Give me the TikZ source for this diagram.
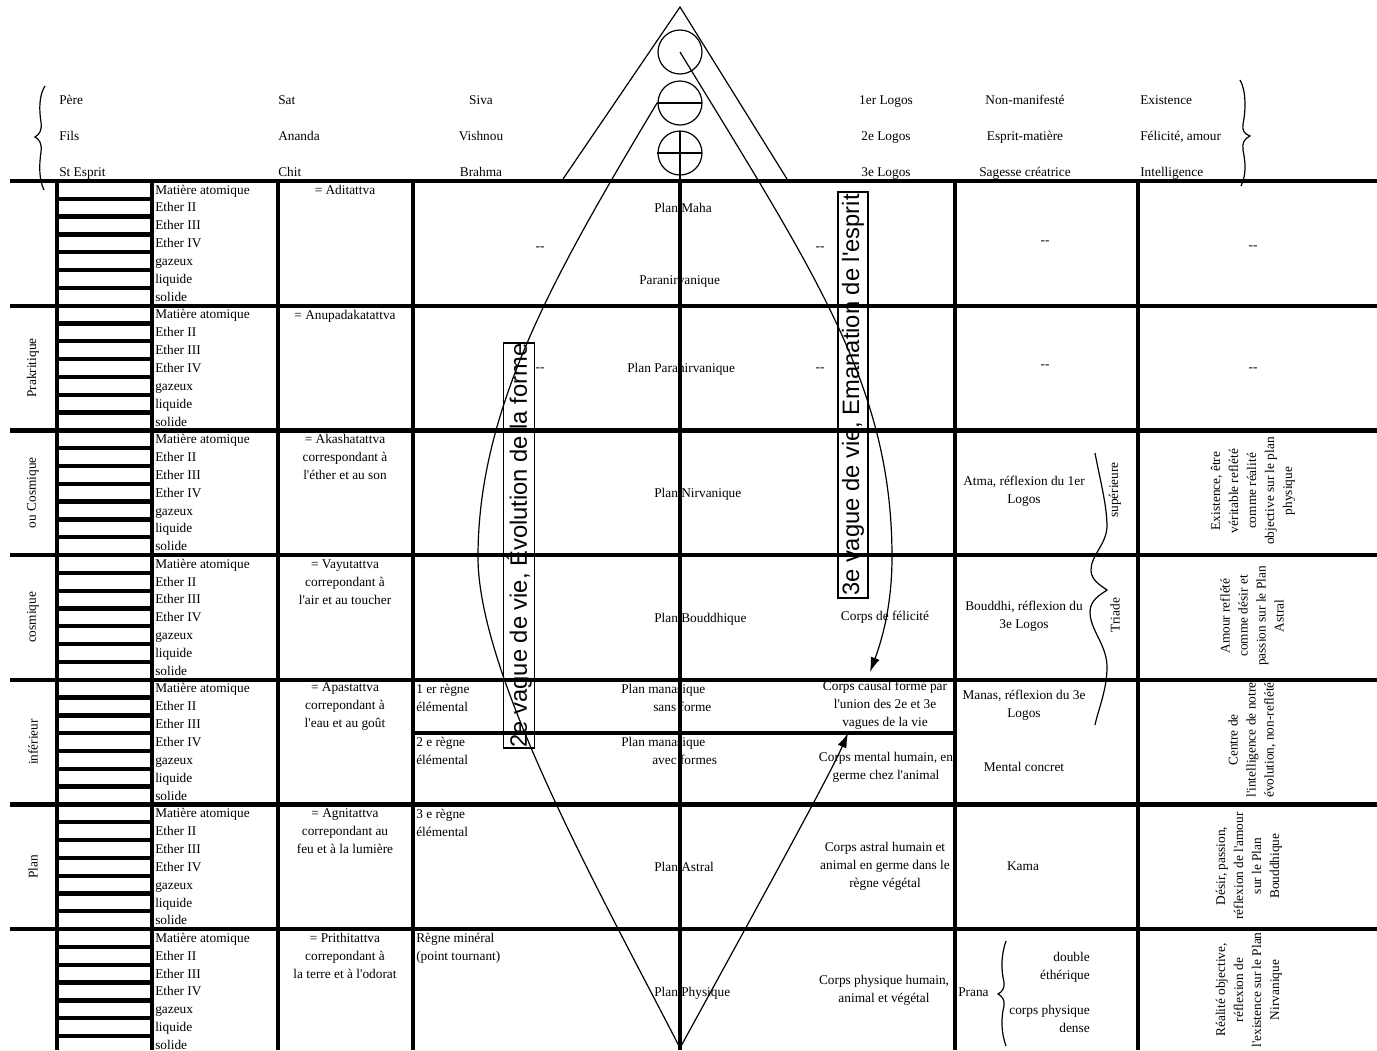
\documentclass[tikz,border=0pt]{standalone}
\usepackage{fontspec}
\newfontfamily\tnr{Liberation Serif}
\newfontfamily\arl{Liberation Sans}
\usetikzlibrary{arrows.meta}
\tikzset{
  txt/.style={font=\tnr\fontsize{10}{13.5}\selectfont, inner sep=0pt, align=center},
  lt/.style={txt, anchor=base west},
  ct/.style={txt, anchor=base},
  rt/.style={txt, anchor=base east},
  rot/.style={txt, rotate=90},
  gridline/.style={line width=3.2pt},
  thinline/.style={line width=0.9pt},
  wavebox/.style={draw, line width=0.8pt, rotate=90, inner xsep=0pt, inner ysep=2pt, minimum height=22.5pt, font=\arl\fontsize{17.8}{20}\selectfont},
  arrowtip/.style={-{Latex[length=11pt,width=7pt]}}
}
\begin{document}
\begin{tikzpicture}[x=0.75pt,y=-0.75pt]
\useasboundingbox (0,0) rectangle (1377,1050);

% header texts
\node[lt] (h1) at (59,104) {Père};
\node[lt] (h2) at (59,140) {Fils};
\node[lt] (h3) at (59,176) {St Esprit};
\node[lt] (h4) at (278,104) {Sat};
\node[lt] (h5) at (278,140) {Ananda};
\node[lt] (h6) at (278,176) {Chit};
\node[ct] (h7) at (481,104) {Siva};
\node[ct] (h8) at (481,140) {Vishnou};
\node[ct] (h9) at (481,176) {Brahma};
\node[ct] (h10) at (886,104) {1er Logos};
\node[ct] (h11) at (886,140) {2e Logos};
\node[ct] (h12) at (886,176) {3e Logos};
\node[ct] (h13) at (1025,104) {Non-manifesté};
\node[ct] (h14) at (1025,140) {Esprit-matière};
\node[ct] (h15) at (1025,176) {Sagesse créatrice};
\node[lt] (h16) at (1140,104) {Existence};
\node[lt] (h17) at (1140,140) {Félicité, amour};
\node[lt] (h18) at (1140,176) {Intelligence};

% ladder texts
\foreach \i in {0,...,6} {
  \pgfmathsetmacro{\bt}{181+124.7*\i}
  \foreach \t [count=\k from 0] in {Matière atomique, Ether II, Ether III, Ether IV, gazeux, liquide, solide} {
    \node[lt] (m\i-\k) at (155, \bt+13+17.9*\k) {\t};
  }
}

% band labels
\node[rot] (b1) at (33,368) {Prakritique};
\node[rot] (b2) at (33,492.7) {ou Cosmique};
\node[rot] (b3) at (33,617.4) {cosmique};
\node[rot] (b4) at (33,742) {inférieur};
\node[rot] (b5) at (33,866.8) {Plan};

% tattva column
\node[ct] (t0) at (345,194) {= Aditattva};
\node[ct] (t1) at (345,319) {= Anupadakatattva};
\node[txt] (t2) at (345,457) {= Akashatattva\\correspondant à\\l'éther et au son};
\node[txt] (t3) at (345,582) {= Vayutattva\\correpondant à\\l'air et au toucher};
\node[txt] (t4) at (345,707) {= Apastattva\\correpondant à\\l'eau et au goût};
\node[txt] (t5) at (345,831) {= Agnitattva\\correpondant au\\feu et à la lumière};
\node[txt] (t6) at (345,956) {= Prithitattva\\correpondant à\\la terre et à l'odorat};

% regne column
\node[lt] (r1) at (416,693) {1 er règne};
\node[lt] (r2) at (416,711) {élémental};
\node[lt] (r3) at (416,746) {2 e règne};
\node[lt] (r4) at (416,764) {élémental};
\node[lt] (r5) at (416,818) {3 e règne};
\node[lt] (r6) at (416,836) {élémental};
\node[lt] (r7) at (416,942) {Règne minéral};
\node[lt] (r8) at (416,960) {(point tournant)};

% dashes
\node[ct] (x1) at (540,250) {--};
\node[ct] (x2) at (820,250) {--};
\node[ct] (x3) at (1045,244) {--};
\node[ct] (x4) at (1253,249) {--};
\node[ct] (x5) at (540,371) {--};
\node[ct] (x6) at (820,371) {--};
\node[ct] (x7) at (1045,368) {--};
\node[ct] (x8) at (1253,371) {--};

% plan texts
\node[lt] (p1) at (654,212) {Plan Maha};
\node[lt] (p2) at (639,284) {Paranirvanique};
\node[lt] (p3) at (627,372) {Plan Paranirvanique};
\node[lt] (p4) at (654,497) {Plan Nirvanique};
\node[lt] (p5) at (654,622) {Plan Bouddhique};
\node[lt] (p6) at (621,693) {Plan manasique};
\node[lt] (p7) at (653,711) {sans forme};
\node[lt] (p8) at (621,746) {Plan manasique};
\node[lt] (p9) at (652,764) {avec formes};
\node[lt] (p10) at (654,871) {Plan Astral};
\node[lt] (p11) at (654,996) {Plan Physique};

% corps column
\node[ct] (c1) at (885,620) {Corps de félicité};
\node[txt] (c2) at (885,705) {Corps causal formé par\\l'union des 2e et 3e\\vagues de la vie};
\node[txt] (c3) at (886,767) {Corps mental humain, en\\germe chez l'animal};
\node[txt] (c4) at (885,866) {Corps astral humain et\\animal en germe dans le\\règne végétal};
\node[txt] (c5) at (884,990) {Corps physique humain,\\animal et végétal};

% principles column
\node[txt] (d1) at (1024,491) {Atma, réflexion du 1er\\Logos};
\node[txt] (d2) at (1024,616) {Bouddhi, réflexion du\\3e Logos};
\node[txt] (d3) at (1024,705) {Manas, réflexion du 3e\\Logos};
\node[ct] (d4) at (1024,771) {Mental concret};
\node[ct] (d5) at (1023,870) {Kama};
\node[lt] (d6) at (958,996) {Prana};
\node[rt] (d7) at (1090,961) {double};
\node[rt] (d8) at (1090,979) {éthérique};
\node[rt] (d9) at (1090,1014) {corps physique};
\node[rt] (d10) at (1090,1032) {dense};
\node[rot] (s1) at (1115,490) {supérieure};
\node[rot] (s2) at (1115,615) {Triade};

% reflections column
\node[rot] (e1) at (1253,491) {Existence, être\\véritable reflété\\comme réalité\\objective sur le plan\\physique};
\node[rot] (e2) at (1252,616) {Amour reflété\\comme désir et\\passion sur le Plan\\Astral};
\node[rot] (e3) at (1252,740) {Centre de\\l'intelligence de notre\\évolution, non-reflété};
\node[rot] (e4) at (1249,866) {Désir, passion,\\réflexion de l'amour\\sur le Plan\\Bouddhique};
\node[rot] (e5) at (1249,990) {Réalité objective,\\réflexion de\\l'existence sur le Plan\\Nirvanique};

% grid
\foreach \y in {181,305.7,430.4,555.1,679.8,804.5,929.2}
  \draw[gridline] (10,\y) -- (1377,\y);
\draw[gridline] (413,733) -- (955,733);
\foreach \x in {57,152,278,413,680,955,1138}
  \draw[gridline] (\x,181) -- (\x,1050);
\foreach \i in {0,...,6} {
  \pgfmathsetmacro{\bt}{181+124.7*\i}
  \foreach \k in {1,...,6}
    \draw[gridline] (57,\bt+17.8*\k) -- (152,\bt+17.8*\k);
}

% triangle and circles
\coordinate (apex) at (680,7);
\coordinate (tl) at (563,179);
\coordinate (tr) at (787,179);
\draw[thinline] (tl) -- (apex) -- (tr);
\coordinate (o1) at (680,52);
\coordinate (o2) at (680,103);
\coordinate (o3) at (680,153);
\draw[thinline] (o1) circle[radius=16.5pt];
\draw[thinline] (o2) circle[radius=16.5pt];
\draw[thinline] (o3) circle[radius=16.5pt];
\coordinate (l2a) at (657,103);
\coordinate (l2b) at (702,103);
\coordinate (l3a) at (657,153);
\coordinate (l3b) at (702,153);
\coordinate (v3a) at (680,131);
\coordinate (v3b) at (680,181);
\draw[thinline] (l2a) -- (l2b);
\draw[thinline] (l3a) -- (l3b);
\draw[thinline] (v3a) -- (v3b);

% life waves
\coordinate (bottom) at (680,1048);
\coordinate (lmid) at (478,557);
\coordinate (rmid) at (892,557);
\coordinate (tip1) at (870,672);
\coordinate (tip2) at (848,733);
\draw[thinline] (l2a) .. controls (556,272) and (478,407) .. (lmid)
  .. controls (478,677) and (605.6,902.8) .. (bottom);
\draw[thinline, arrowtip] (o1) .. controls (816,275) and (892,387) .. (rmid)
  .. controls (892,610) and (880,645) .. (tip1);
\draw[thinline, arrowtip] (bottom) .. controls (750,920) and (830,775) .. (tip2);

% vertical boxes
\node[wavebox, minimum width=303.75pt] (w1) at (519,545.5) {2e vague de vie, Évolution de la forme};
\node[wavebox, minimum width=304.5pt] (w2) at (853,395) {3e vague de vie, Emanation de l'esprit};

% braces
\draw[thinline] (45,86) .. controls (39,95) and (39,110) .. (41,122)
  .. controls (42,130) and (40,134) .. (35,137)
  .. controls (40,140) and (42,144) .. (41,152)
  .. controls (39,165) and (39,180) .. (44,190);
\draw[thinline] (1240,80) .. controls (1246,90) and (1246,110) .. (1243,124)
  .. controls (1242,130) and (1244,134) .. (1250,136)
  .. controls (1244,139) and (1242,143) .. (1243,150)
  .. controls (1246,165) and (1246,175) .. (1241,186);
\draw[thinline] (1095,453) .. controls (1100,480) and (1107,505) .. (1107,527)
  .. controls (1106,545) and (1091,555) .. (1091,570)
  .. controls (1091,580) and (1100,585) .. (1107,590)
  .. controls (1100,595) and (1090,600) .. (1090,612)
  .. controls (1090,630) and (1107,645) .. (1107,667)
  .. controls (1107,690) and (1098,710) .. (1095,725);
\draw[thinline] (1006,941) .. controls (1001,955) and (1001,970) .. (1004,982)
  .. controls (1005,988) and (1002,992) .. (998,994)
  .. controls (1002,996) and (1005,1000) .. (1004,1006)
  .. controls (1001,1018) and (1001,1032) .. (1006,1046);
\end{tikzpicture}
\end{document}
